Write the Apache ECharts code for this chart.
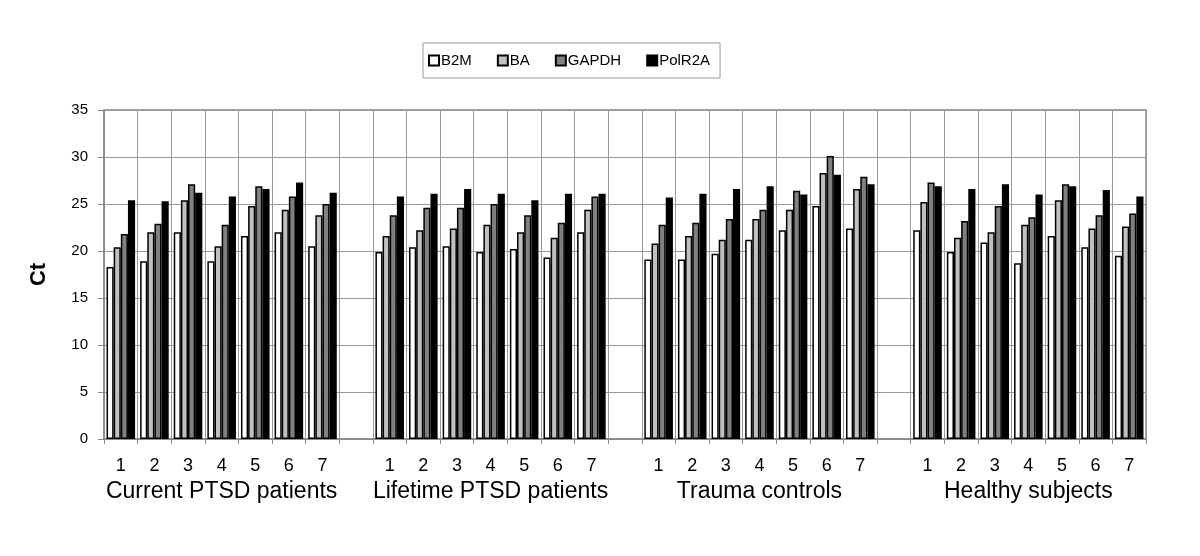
<!DOCTYPE html>
<html>
<head>
<meta charset="utf-8">
<script src="https://cdn.jsdelivr.net/npm/echarts@6/dist/echarts.min.js"></script>
<style>
html,body{margin:0;padding:0;background:#fff;}
#chart{width:1200px;height:556px;}
</style>
</head>
<body>
<div id="chart"></div>
<script>
const groups = ['Current PTSD patients', 'Lifetime PTSD patients', 'Trauma controls', 'Healthy subjects'];
const subjects = ['1', '2', '3', '4', '5', '6', '7'];
const yTicks = { min: 0, max: 35, interval: 5 };

const b2m    = [18.3, 18.9, 22.0, 18.9, 21.6, 22.0, 20.5,  19.9, 20.4, 20.5, 19.9, 20.2, 19.3, 22.0,  19.1, 19.1, 19.7, 21.2, 22.2, 24.8, 22.4,  22.2, 19.9, 20.9, 18.7, 21.6, 20.4, 19.5];
const ba     = [20.4, 22.0, 25.4, 20.5, 24.8, 24.4, 23.8,  21.6, 22.2, 22.4, 22.8, 22.0, 21.4, 24.4,  20.8, 21.6, 21.2, 23.4, 24.4, 28.3, 26.6,  25.2, 21.4, 22.0, 22.8, 25.4, 22.4, 22.6];
const gapdh  = [21.8, 22.9, 27.1, 22.8, 26.9, 25.8, 25.0,  23.8, 24.6, 24.6, 25.0, 23.8, 23.0, 25.8,  22.8, 23.0, 23.4, 24.4, 26.4, 30.1, 27.9,  27.3, 23.2, 24.8, 23.6, 27.1, 23.8, 24.0];
const polr2a = [25.4, 25.3, 26.2, 25.8, 26.6, 27.3, 26.2,  25.8, 26.1, 26.6, 26.1, 25.4, 26.1, 26.1,  25.7, 26.1, 26.6, 26.9, 26.0, 28.1, 27.1,  26.9, 26.6, 27.1, 26.0, 26.9, 26.5, 25.8];

const seriesDefs = [
  { name: 'B2M', values: b2m, color: '#ffffff' },
  { name: 'BA', values: ba, color: '#c0c0c0' },
  { name: 'GAPDH', values: gapdh, color: '#808080' },
  { name: 'PolR2A', values: polr2a, color: '#000000' }
];

// Build category axis with an empty slot between groups
const cats = [];
const groupCats = [];
groups.forEach((g, gi) => {
  subjects.forEach((s, si) => {
    cats.push(s);
    groupCats.push(si === 3 ? g : '');
  });
  if (gi < groups.length - 1) { cats.push(''); groupCats.push(''); }
});
function withGaps(arr) {
  const out = [];
  groups.forEach((g, gi) => {
    for (let si = 0; si < subjects.length; si++) out.push(arr[gi * subjects.length + si]);
    if (gi < groups.length - 1) out.push(null);
  });
  return out;
}

const FONT = '"Liberation Sans", Arial, sans-serif';
const chart = echarts.init(document.getElementById('chart'));
chart.setOption({
  animation: false,
  backgroundColor: '#ffffff',
  textStyle: { fontFamily: FONT, color: '#000' },
  legend: {
    left: 423, top: 43,
    padding: [10, 10, 10, 5],
    itemWidth: 10, itemHeight: 10, itemGap: 25,
    icon: 'rect',
    borderColor: '#999', borderWidth: 1,
    textStyle: { fontFamily: FONT, fontSize: 15, color: '#000', padding: [0, 0, 0, -3] },
    data: seriesDefs.map(s => s.name)
  },
  grid: {
    left: 104, right: 54, top: 110, bottom: 117,
    show: true, borderColor: '#888', borderWidth: 1.5, backgroundColor: 'transparent',
    containLabel: false
  },
  xAxis: [
    {
      type: 'category', data: cats, position: 'bottom',
      boundaryGap: true,
      axisLine: { show: true, lineStyle: { color: '#888', width: 1.5 } },
      axisTick: { show: true, interval: 0, length: 5, lineStyle: { color: '#888' } },
      axisLabel: { interval: 0, margin: 18, fontSize: 18, color: '#000', fontFamily: FONT },
      splitLine: { show: true, interval: 0, lineStyle: { color: '#999', width: 1 } }
    },
    {
      type: 'category', data: groupCats, position: 'bottom',
      boundaryGap: true,
      axisLine: { show: false }, axisTick: { show: false },
      axisLabel: { interval: 0, margin: 41, fontSize: 23, color: '#000', fontFamily: FONT },
      splitLine: { show: false }
    }
  ],
  yAxis: {
    type: 'value', min: yTicks.min, max: yTicks.max, interval: yTicks.interval,
    name: 'Ct', nameLocation: 'middle', nameRotate: 90, nameGap: 54,
    nameTextStyle: { fontFamily: FONT, fontSize: 22, fontWeight: 'bold', color: '#000' },
    axisLine: { show: true, lineStyle: { color: '#888', width: 1.5 } },
    axisTick: { show: true, length: 6, lineStyle: { color: '#888' } },
    axisLabel: { margin: 16, fontSize: 15, color: '#000', fontFamily: FONT },
    splitLine: { show: true, lineStyle: { color: '#999', width: 1 } }
  },
  series: seriesDefs.map(s => ({
    name: s.name, type: 'bar', xAxisIndex: 0,
    data: withGaps(s.values),
    barGap: '0%', barCategoryGap: '15%',
    itemStyle: { color: s.color, borderColor: '#000', borderWidth: 1.5 },
    emphasis: { disabled: true }
  }))
});
</script>
</body>
</html>
